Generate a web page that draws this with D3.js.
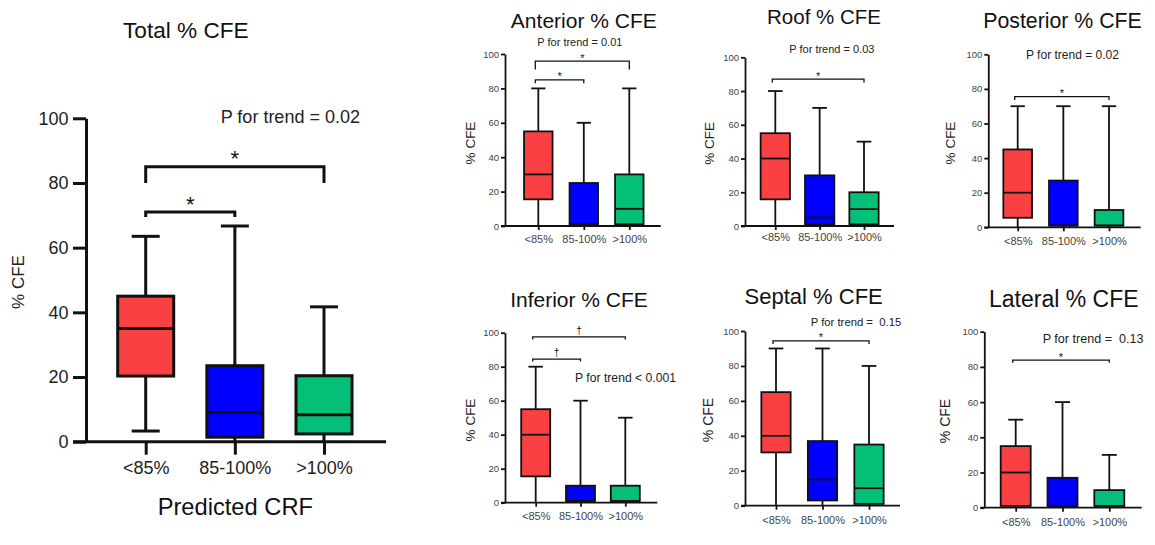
<!DOCTYPE html>
<html>
<head>
<meta charset="utf-8">
<script src="https://cdn.jsdelivr.net/npm/d3@7"></script>
<style>
  html, body { margin: 0; padding: 0; background: #fff; }
  svg { display: block; font-family: "Liberation Sans", Arial, sans-serif; }
  text { white-space: pre; }
</style>
</head>
<body>
<svg id="chart" width="1155" height="545"></svg>
<script>
// ---------- DATA ----------
const categories = ["<85%", "85-100%", ">100%"];
const yTicks = [0, 20, 40, 60, 80, 100];
const boxColors = ["#F94144", "#0000FF", "#04BF78"];

// [min, q1, median, q3, max] per category
const totalStats     = [[3.3, 20.3, 35, 45, 63.5], [0, 1.4, 9, 23.5, 66.7], [0, 2.4, 8.3, 20.4, 41.7]];
const anteriorStats  = [[0, 15.5, 30, 55, 80], [0, 1, 1, 25, 60], [0, 1, 10, 30, 80]];
const roofStats      = [[0, 15.8, 40, 55, 80], [0, 0.8, 5, 30, 70], [0, 1, 10, 20, 50]];
const posteriorStats = [[0, 5.5, 20, 45, 70], [0, 1, 1, 27, 70], [0, 1, 1, 10, 70]];
const inferiorStats  = [[0, 15.5, 40, 55, 80], [0, 1, 1, 10, 60], [0, 1, 1, 10, 50]];
const septalStats    = [[0, 30.5, 40, 65, 90], [0, 3, 15, 37, 90], [0, 1, 10, 35, 80]];
const lateralStats   = [[0, 1, 20, 35, 50], [0, 1, 1, 17, 60], [0, 1, 1, 10, 30]];

// significance brackets: [fromIndex, toIndex, barValue, legEndValue, symbol]
const totalBrackets     = [[0, 2, 85, 80, "*"], [0, 1, 71, 69.5, "*"]];
const anteriorBrackets  = [[0, 2, 95.9, 91, "*"], [0, 1, 84.9, 83, "*"]];
const roofBrackets      = [[0, 2, 87.1, 85, "*"]];
const posteriorBrackets = [[0, 2, 75.5, 73.6, "*"]];
const inferiorBrackets  = [[0, 2, 97.6, 96, "\u2020"], [0, 1, 84.5, 83, "\u2020"]];
const septalBrackets    = [[0, 2, 94.4, 92.6, "*"]];
const lateralBrackets   = [[0, 2, 83.9, 82.4, "*"]];

const titles = ["Total % CFE", "Anterior % CFE", "Roof % CFE", "Posterior % CFE",
                "Inferior % CFE", "Septal % CFE", "Lateral % CFE"];
const trendLabels = ["P for trend = 0.02", "P for trend = 0.01", "P for trend = 0.03",
                     "P for trend = 0.02", "P for trend < 0.001", "P for trend =  0.15",
                     "P for trend =  0.13"];
const yAxisLabel = "% CFE";
const xAxisLabel = "Predicted CRF";

// ---------- LAYOUT ----------
const panels = [
  { stats: totalStats, brackets: totalBrackets, big: true,
    axisX: 86, xEnd: 386, y0: 441.7, y100: 118.3, c0: 145.7, c2: 324, boxW: 56,
    title: [185.8, 38, 22.6], ptxt: [220.7, 123, 18], ylab: [18, 282, 17], xlabOff: 32.3 },
  { stats: anteriorStats, brackets: anteriorBrackets,
    axisX: 505, xEnd: 660.7, y0: 226, y100: 54, c0: 538.3, c2: 629.3, boxW: 28.5,
    title: [583.8, 28.3, 21], ptxt: [537.3, 46, 11], ylab: [470, 143, 13.5], xlabOff: 16.7 },
  { stats: roofStats, brackets: roofBrackets,
    axisX: 745, xEnd: 894, y0: 226, y100: 57.3, c0: 775.3, c2: 864, boxW: 29.3,
    title: [824, 24, 20.5], ptxt: [789.3, 53.3, 11], ylab: [709.5, 143.3, 13.5], xlabOff: 15 },
  { stats: posteriorStats, brackets: posteriorBrackets,
    axisX: 988.3, xEnd: 1140.7, y0: 227.3, y100: 54.3, c0: 1017.7, c2: 1109, boxW: 28.7,
    title: [1062.5, 28.3, 21.3], ptxt: [1026, 59.3, 12], ylab: [950, 143, 13.5], xlabOff: 17.5 },
  { stats: inferiorStats, brackets: inferiorBrackets,
    axisX: 505, xEnd: 657.3, y0: 502.7, y100: 332.7, c0: 535.7, c2: 625.3, boxW: 29,
    title: [579, 307.3, 21], ptxt: [575, 381.7, 12.2], ylab: [470, 420, 13.5], xlabOff: 17.3 },
  { stats: septalStats, brackets: septalBrackets,
    axisX: 745, xEnd: 900, y0: 505.7, y100: 331, c0: 776, c2: 869, boxW: 29.3,
    title: [813.7, 304, 22], ptxt: [810.7, 326, 11.3], ylab: [707.5, 420, 14], xlabOff: 18.3 },
  { stats: lateralStats, brackets: lateralBrackets,
    axisX: 984.3, xEnd: 1141.7, y0: 507.7, y100: 331.7, c0: 1015.7, c2: 1109.3, boxW: 30,
    title: [1063.8, 307.3, 23], ptxt: [1042.7, 343.3, 12.6], ylab: [945, 421, 14], xlabOff: 18.3 }
];

const svg = d3.select("#chart");

panels.forEach((p, pi) => {
  const big = !!p.big;
  const sw = big ? 3 : 1.8;          // box / axis stroke
  const bsw = big ? 3 : 1.3;         // bracket stroke
  const tickLen = big ? 13 : 4;
  const tickFont = big ? 18 : 9.5;
  const xFont = big ? 18 : 11;
  const ink = "#111";
  const tickInk = big ? "#222" : "#444";

  const y = d3.scaleLinear().domain([0, 100]).range([p.y0, p.y100]);
  const x = d3.scalePoint().domain(categories).range([p.c0, p.c2]);
  const g = svg.append("g");

  // y axis
  const yAx = g.append("g")
    .attr("transform", `translate(${p.axisX},0)`)
    .call(d3.axisLeft(y).tickValues(yTicks).tickSize(tickLen).tickSizeOuter(0)
      .tickPadding(big ? 4.5 : 2));
  yAx.select(".domain").attr("stroke", ink).attr("stroke-width", sw);
  yAx.selectAll(".tick line").attr("stroke", ink).attr("stroke-width", sw);
  yAx.selectAll(".tick text").attr("fill", tickInk).attr("font-size", tickFont)
    .attr("font-family", "Liberation Sans, Arial, sans-serif");

  // x axis
  const xAx = g.append("g")
    .attr("transform", `translate(0,${p.y0})`)
    .call(d3.axisBottom(x).tickSize(tickLen).tickSizeOuter(0).tickPadding(0));
  xAx.select(".domain").remove();
  xAx.selectAll(".tick line").attr("stroke", ink).attr("stroke-width", sw);
  xAx.selectAll(".tick text").attr("fill", tickInk).attr("font-size", xFont)
    .attr("font-family", "Liberation Sans, Arial, sans-serif")
    .attr("dy", null).attr("y", p.xlabOff);
  g.append("line")
    .attr("x1", p.axisX - tickLen).attr("x2", p.xEnd)
    .attr("y1", p.y0).attr("y2", p.y0)
    .attr("stroke", ink).attr("stroke-width", sw);

  // boxes
  const bx = g.selectAll("g.box").data(p.stats).join("g").attr("class", "box");
  // whiskers
  bx.append("line")
    .attr("x1", (d, i) => x(categories[i])).attr("x2", (d, i) => x(categories[i]))
    .attr("y1", d => y(d[0])).attr("y2", d => y(d[4]))
    .attr("stroke", ink).attr("stroke-width", sw);
  // caps (only when whisker end is above axis)
  bx.append("line")
    .attr("x1", (d, i) => x(categories[i]) - p.boxW / 4)
    .attr("x2", (d, i) => x(categories[i]) + p.boxW / 4)
    .attr("y1", d => y(d[4])).attr("y2", d => y(d[4]))
    .attr("stroke", ink).attr("stroke-width", sw);
  bx.filter(d => d[0] > 0).append("line")
    .attr("x1", (d, i) => x(categories[p.stats.indexOf(d)]) - p.boxW / 4)
    .attr("x2", (d, i) => x(categories[p.stats.indexOf(d)]) + p.boxW / 4)
    .attr("y1", d => y(d[0])).attr("y2", d => y(d[0]))
    .attr("stroke", ink).attr("stroke-width", sw);
  // box rect
  bx.append("rect")
    .attr("x", (d, i) => x(categories[i]) - p.boxW / 2)
    .attr("width", p.boxW)
    .attr("y", d => y(d[3]))
    .attr("height", d => y(d[1]) - y(d[3]))
    .attr("fill", (d, i) => boxColors[i])
    .attr("stroke", ink).attr("stroke-width", sw);
  // median
  bx.append("line")
    .attr("x1", (d, i) => x(categories[i]) - p.boxW / 2)
    .attr("x2", (d, i) => x(categories[i]) + p.boxW / 2)
    .attr("y1", d => y(d[2])).attr("y2", d => y(d[2]))
    .attr("stroke", ink).attr("stroke-width", sw);

  // brackets
  p.brackets.forEach(b => {
    const xa = x(categories[b[0]]) - (big ? 0 : 3);
    const xb = x(categories[b[1]]);
    const yb = y(b[2]), yl = y(b[3]);
    g.append("path")
      .attr("d", `M${xa},${yl}V${yb}H${xb}V${yl}`)
      .attr("fill", "none").attr("stroke", ink).attr("stroke-width", bsw);
    const dag = b[4] !== "*";
    g.append("text")
      .attr("x", (xa + xb) / 2)
      .attr("y", big ? yb - 0.5 : (dag ? yb - 3 : yb + 0.5))
      .attr("text-anchor", "middle")
      .attr("font-size", big ? 22 : (dag ? 10 : 11))
      .attr("fill", ink)
      .text(b[4]);
  });

  // title
  g.append("text").attr("x", p.title[0]).attr("y", p.title[1])
    .attr("text-anchor", "middle").attr("font-size", p.title[2]).attr("fill", ink)
    .text(titles[pi]);
  // p for trend
  g.append("text").attr("x", p.ptxt[0]).attr("y", p.ptxt[1])
    .attr("font-size", p.ptxt[2]).attr("fill", "#222")
    .text(trendLabels[pi]);
  // y label
  g.append("text")
    .attr("transform", `translate(${p.ylab[0]},${p.ylab[1]}) rotate(-90)`)
    .attr("text-anchor", "middle").attr("dominant-baseline", "central")
    .attr("font-size", p.ylab[2]).attr("fill", "#222")
    .text(yAxisLabel);
  if (big) {
    g.append("text").attr("x", 235.3).attr("y", 515)
      .attr("text-anchor", "middle").attr("font-size", 23.7).attr("fill", ink)
      .text(xAxisLabel);
  }
});
</script>
</body>
</html>
